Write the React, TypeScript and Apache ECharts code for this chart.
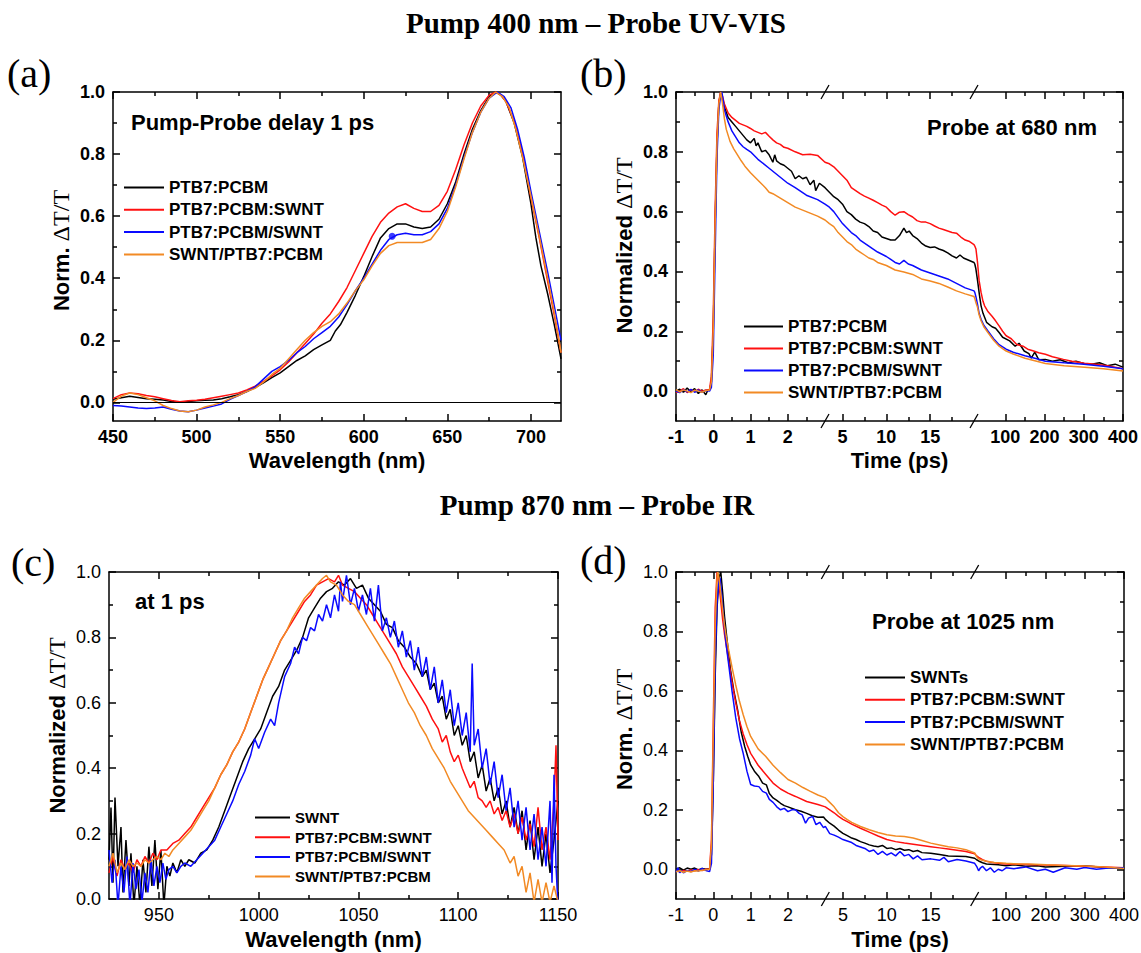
import React, { useEffect, useRef } from 'react';
import * as echarts from 'echarts';

type Pt = [number, number];

const SANS = '"Liberation Sans", Arial, Helvetica, sans-serif';
const SERIF = '"Liberation Serif", "Times New Roman", Times, serif';

const BLACK = '#000000';
const RED = '#ff1010';
const BLUE = '#0a0aff';
const ORANGE = '#f28a24';

// ---------------- Series names ----------------
const N_PTB7 = 'PTB7:PCBM';
const N_MIX = 'PTB7:PCBM:SWNT';
const N_TOP = 'PTB7:PCBM/SWNT';
const N_BOT = 'SWNT/PTB7:PCBM';
const N_SWNT = 'SWNT';
const N_SWNTS = 'SWNTs';

// ---------------- Ticks ----------------
const A_X_MAJOR = [450, 500, 550, 600, 650, 700];
const A_X_MINOR = [475, 525, 575, 625, 675];
const C_X_MAJOR = [950, 1000, 1050, 1100, 1150];
const C_X_MINOR = [975, 1025, 1075, 1125];
const Y_MAJOR = [0, 0.2, 0.4, 0.6, 0.8, 1.0];
const Y_MINOR = [0.1, 0.3, 0.5, 0.7, 0.9];
const TIME_MAJOR = [-1, 0, 1, 2, 5, 10, 15, 100, 200, 300, 400];
const TIME_MINOR = [-0.5, 0.5, 1.5, 2.5, 7.5, 12.5, 17.5, 150, 250, 350];
const TIME_BREAKS = [3, 20];

// ---------------- (a) Pump 400 / probe UV-VIS, spectrum at 1 ps ----------------
const A_BLACK: Pt[] = [
  [450, 0.01], [455, 0.015], [460, 0.02], [465, 0.016], [470, 0.012], [475, 0.01], [480, 0.008], [485, 0.003], [490, 0.0], [495, 0.003], [500, 0.005], [505, 0.007], [510, 0.008], [515, 0.012], [520, 0.018], [525, 0.025], [530, 0.035], [535, 0.048], [540, 0.063], [545, 0.08], [550, 0.095], [555, 0.115], [560, 0.135], [565, 0.15], [570, 0.17], [575, 0.185], [580, 0.2], [583, 0.23], [586, 0.25], [590, 0.29], [595, 0.345], [600, 0.405], [605, 0.47], [610, 0.53], [615, 0.56], [620, 0.575], [625, 0.575], [630, 0.565], [635, 0.56], [640, 0.565], [645, 0.59], [650, 0.64], [655, 0.71], [660, 0.8], [665, 0.88], [670, 0.94], [675, 0.985], [679, 1.0], [682, 0.99], [685, 0.97], [690, 0.9], [695, 0.79], [700, 0.64], [703, 0.53], [706, 0.44], [710, 0.35], [714, 0.25], [718, 0.14],
];
const A_RED: Pt[] = [
  [450, 0.012], [455, 0.025], [460, 0.03], [465, 0.028], [470, 0.022], [475, 0.018], [480, 0.012], [485, 0.006], [490, 0.002], [495, 0.005], [500, 0.007], [505, 0.01], [510, 0.015], [515, 0.02], [520, 0.025], [525, 0.03], [530, 0.04], [535, 0.052], [540, 0.068], [545, 0.085], [550, 0.105], [555, 0.13], [560, 0.16], [565, 0.19], [570, 0.22], [575, 0.255], [580, 0.285], [585, 0.325], [590, 0.37], [595, 0.425], [600, 0.48], [605, 0.535], [610, 0.58], [615, 0.61], [620, 0.63], [625, 0.64], [630, 0.625], [635, 0.615], [640, 0.615], [645, 0.635], [650, 0.68], [655, 0.75], [660, 0.83], [665, 0.9], [670, 0.955], [675, 0.99], [679, 1.0], [682, 0.99], [685, 0.97], [690, 0.905], [695, 0.8], [700, 0.66], [705, 0.53], [710, 0.39], [714, 0.28], [718, 0.16],
];
const A_BLUE: Pt[] = [
  [450, -0.01], [455, -0.012], [460, -0.015], [465, -0.018], [470, -0.02], [475, -0.018], [480, -0.015], [485, -0.022], [490, -0.028], [495, -0.03], [500, -0.025], [505, -0.018], [510, -0.012], [515, -0.005], [520, 0.01], [525, 0.022], [530, 0.035], [535, 0.05], [540, 0.075], [545, 0.1], [550, 0.115], [555, 0.135], [560, 0.16], [565, 0.18], [570, 0.205], [575, 0.225], [580, 0.245], [585, 0.275], [590, 0.315], [595, 0.36], [600, 0.4], [605, 0.445], [610, 0.49], [615, 0.525], [620, 0.54], [625, 0.545], [630, 0.54], [635, 0.54], [640, 0.55], [645, 0.575], [650, 0.625], [655, 0.7], [660, 0.79], [665, 0.87], [670, 0.935], [675, 0.98], [680, 1.0], [684, 0.985], [688, 0.95], [692, 0.88], [696, 0.79], [700, 0.68], [705, 0.55], [710, 0.42], [714, 0.31], [718, 0.2],
];
const A_ORANGE: Pt[] = [
  [450, 0.0], [455, 0.02], [460, 0.03], [465, 0.025], [470, 0.015], [475, 0.005], [480, -0.01], [485, -0.02], [490, -0.028], [495, -0.03], [500, -0.025], [505, -0.015], [510, -0.008], [515, 0.0], [520, 0.012], [525, 0.022], [530, 0.035], [535, 0.045], [540, 0.065], [545, 0.09], [550, 0.11], [555, 0.14], [560, 0.17], [565, 0.2], [570, 0.225], [575, 0.245], [580, 0.26], [585, 0.285], [590, 0.32], [595, 0.36], [600, 0.395], [605, 0.44], [610, 0.48], [615, 0.505], [620, 0.515], [625, 0.515], [630, 0.515], [635, 0.515], [640, 0.525], [645, 0.56], [650, 0.615], [655, 0.695], [660, 0.785], [665, 0.87], [670, 0.935], [675, 0.98], [679, 1.0], [683, 0.985], [687, 0.95], [691, 0.88], [695, 0.79], [700, 0.665], [705, 0.535], [710, 0.4], [714, 0.29], [718, 0.16],
];
const A_BLUE_DOT: Pt[] = [[617, 0.535]];

// ---------------- (b) Probe at 680 nm, kinetics (time in ps) ----------------
const B_BLACK: Pt[] = [
  [-1, 0], [-0.9, 0.006], [-0.8, -0.004], [-0.7, 0.01], [-0.6, -0.002], [-0.5, 0.008], [-0.4, -0.008], [-0.3, 0.004], [-0.2, -0.012], [-0.15, 0.002], [-0.1, 0.004], [-0.05, 0.03], [0, 0.2], [0.05, 0.55], [0.1, 0.82], [0.15, 0.96], [0.2, 1.0], [0.25, 0.975], [0.3, 0.95], [0.4, 0.915], [0.5, 0.9], [0.6, 0.885], [0.7, 0.87], [0.8, 0.855], [0.9, 0.84], [1.0, 0.83], [1.1, 0.845], [1.15, 0.82], [1.2, 0.83], [1.3, 0.8], [1.4, 0.805], [1.5, 0.79], [1.6, 0.765], [1.65, 0.79], [1.7, 0.77], [1.8, 0.76], [1.9, 0.755], [2.0, 0.745], [2.1, 0.735], [2.2, 0.71], [2.3, 0.72], [2.4, 0.71], [2.5, 0.715], [2.6, 0.69], [2.7, 0.705], [2.75, 0.67], [2.85, 0.695], [3.0, 0.68],
  [3.5, 0.665], [4, 0.65], [4.5, 0.64], [5, 0.625], [5.5, 0.6], [6, 0.59], [6.5, 0.575], [7, 0.565], [7.5, 0.56], [8, 0.55], [8.5, 0.535], [9, 0.53], [9.5, 0.515], [10, 0.51], [10.5, 0.505], [11, 0.505], [11.5, 0.52], [12, 0.545], [12.3, 0.53], [12.6, 0.535], [13, 0.52], [13.5, 0.51], [14, 0.495], [14.5, 0.485], [15, 0.48], [15.5, 0.482], [16, 0.475], [16.5, 0.47], [17, 0.462], [17.5, 0.452], [18, 0.445], [18.4, 0.455], [18.8, 0.445], [19.2, 0.44], [19.6, 0.435], [20, 0.43],
  [22, 0.425], [24.6, 0.41], [29, 0.37], [34, 0.32], [38, 0.285], [43, 0.26], [52, 0.23], [66, 0.215], [75, 0.21], [84, 0.196], [93, 0.18], [111, 0.168], [125, 0.15], [135, 0.16], [148, 0.134], [160, 0.125], [166, 0.11], [175, 0.13], [185, 0.105], [202, 0.106], [220, 0.1], [240, 0.105], [260, 0.095], [280, 0.1], [300, 0.092], [320, 0.09], [340, 0.095], [360, 0.085], [380, 0.09], [400, 0.08],
];
const B_RED: Pt[] = [
  [-1, -0.005], [-0.9, 0.0], [-0.8, 0.008], [-0.7, -0.005], [-0.6, 0.005], [-0.5, -0.002], [-0.4, 0.006], [-0.3, 0.0], [-0.2, 0.004], [-0.1, 0.005], [-0.05, 0.05], [0, 0.25], [0.05, 0.6], [0.1, 0.86], [0.15, 0.97], [0.2, 1.0], [0.25, 0.985], [0.3, 0.96], [0.4, 0.93], [0.5, 0.915], [0.6, 0.905], [0.7, 0.895], [0.8, 0.89], [0.9, 0.885], [1.0, 0.878], [1.1, 0.87], [1.2, 0.865], [1.3, 0.86], [1.4, 0.865], [1.5, 0.852], [1.6, 0.84], [1.7, 0.83], [1.8, 0.825], [1.9, 0.815], [2.0, 0.812], [2.2, 0.8], [2.4, 0.79], [2.6, 0.792], [2.8, 0.788], [3.0, 0.765],
  [3.5, 0.76], [4, 0.75], [4.5, 0.735], [5, 0.72], [5.5, 0.705], [6, 0.68], [6.5, 0.67], [7, 0.66], [7.5, 0.652], [8, 0.645], [8.5, 0.638], [9, 0.63], [9.5, 0.622], [10, 0.615], [10.5, 0.6], [11, 0.588], [11.5, 0.598], [12, 0.6], [12.5, 0.59], [13, 0.582], [13.5, 0.57], [14, 0.565], [14.5, 0.565], [15, 0.56], [15.5, 0.552], [16, 0.545], [16.5, 0.54], [17, 0.535], [17.5, 0.53], [18, 0.528], [18.5, 0.515], [19, 0.505], [19.5, 0.5], [20, 0.49],
  [22, 0.485], [25, 0.475], [29, 0.43], [33, 0.37], [38, 0.33], [43, 0.3], [47, 0.285], [56, 0.265], [66, 0.25], [75, 0.235], [84, 0.218], [93, 0.2], [102, 0.185], [115, 0.175], [129, 0.156], [145, 0.15], [157, 0.14], [170, 0.135], [185, 0.128], [202, 0.123], [220, 0.115], [248, 0.106], [270, 0.1], [302, 0.093], [330, 0.09], [360, 0.085], [380, 0.08], [400, 0.075],
];
const B_BLUE: Pt[] = [
  [-1, 0.0], [-0.9, -0.005], [-0.8, 0.005], [-0.7, -0.003], [-0.6, 0.006], [-0.5, -0.004], [-0.4, 0.004], [-0.3, -0.004], [-0.2, 0.002], [-0.1, 0.0], [-0.05, 0.012], [0, 0.12], [0.05, 0.45], [0.1, 0.78], [0.15, 0.94], [0.2, 0.99], [0.23, 1.0], [0.27, 0.97], [0.3, 0.94], [0.4, 0.9], [0.5, 0.87], [0.6, 0.85], [0.7, 0.83], [0.8, 0.817], [0.9, 0.808], [1.0, 0.8], [1.2, 0.775], [1.5, 0.745], [1.8, 0.715], [2.0, 0.695], [2.2, 0.68], [2.5, 0.655], [2.8, 0.64], [3.0, 0.625],
  [3.5, 0.615], [4, 0.6], [4.5, 0.58], [5, 0.56], [5.5, 0.545], [6, 0.53], [6.5, 0.52], [7, 0.505], [7.5, 0.495], [8, 0.485], [8.5, 0.475], [9, 0.465], [10, 0.45], [10.5, 0.44], [11, 0.43], [11.5, 0.425], [12, 0.437], [12.5, 0.425], [13, 0.42], [14, 0.405], [15, 0.395], [16, 0.385], [17, 0.375], [18, 0.36], [19, 0.345], [20, 0.335],
  [22, 0.33], [25, 0.315], [29, 0.29], [33, 0.26], [38, 0.24], [45, 0.22], [56, 0.2], [70, 0.175], [84, 0.155], [102, 0.14], [120, 0.13], [150, 0.118], [180, 0.108], [202, 0.1], [250, 0.095], [300, 0.09], [350, 0.083], [400, 0.075],
];
const B_ORANGE: Pt[] = [
  [-1, 0.005], [-0.9, -0.003], [-0.8, 0.004], [-0.7, 0.0], [-0.6, -0.005], [-0.5, 0.003], [-0.4, 0.0], [-0.3, -0.004], [-0.2, 0.002], [-0.1, 0.004], [-0.05, 0.03], [0, 0.2], [0.05, 0.55], [0.1, 0.83], [0.15, 0.96], [0.2, 1.0], [0.25, 0.96], [0.3, 0.91], [0.35, 0.875], [0.45, 0.835], [0.55, 0.81], [0.65, 0.79], [0.75, 0.77], [0.85, 0.752], [1.0, 0.73], [1.2, 0.705], [1.4, 0.68], [1.5, 0.665], [1.6, 0.66], [1.8, 0.645], [2.0, 0.63], [2.2, 0.615], [2.4, 0.605], [2.6, 0.595], [2.8, 0.585], [3.0, 0.572],
  [3.5, 0.56], [4, 0.55], [4.5, 0.53], [5, 0.515], [5.5, 0.5], [6, 0.49], [6.5, 0.475], [7, 0.465], [7.5, 0.455], [8, 0.445], [8.5, 0.44], [9, 0.43], [10, 0.42], [11, 0.405], [12, 0.398], [13, 0.39], [14, 0.375], [15, 0.368], [16, 0.36], [17, 0.348], [18, 0.335], [19, 0.325], [20, 0.316],
  [22, 0.31], [25, 0.295], [29, 0.28], [33, 0.255], [38, 0.235], [45, 0.215], [56, 0.195], [70, 0.17], [84, 0.15], [102, 0.134], [120, 0.124], [150, 0.11], [180, 0.1], [202, 0.092], [250, 0.085], [302, 0.08], [350, 0.075], [400, 0.067],
];

// ---------------- (c) Pump 870 / probe IR, spectrum at 1 ps ----------------
const C_BLACK: Pt[] = [
  [925, 0.12], [926, 0.28], [927, 0.05], [928, 0.31], [929.5, 0.1], [931, 0.22], [932, 0.02], [933.5, 0.18], [935, 0.04], [936, 0.14], [937.5, -0.02], [939, 0.1], [940.5, -0.02], [942, 0.12], [943.5, 0.02], [945, 0.16], [946.5, 0.04], [948, 0.18], [949.5, 0.03], [951, 0.15], [952.5, -0.02], [954, 0.1], [955.5, 0.07], [957, 0.11], [959, 0.08], [961, 0.12], [963, 0.1], [965, 0.12], [968, 0.11], [971, 0.14], [974, 0.15], [977, 0.18], [980, 0.22], [983, 0.27], [986, 0.32], [989, 0.37], [992, 0.42], [995, 0.46], [998, 0.49], [1001, 0.52], [1004, 0.57], [1007, 0.62], [1010, 0.65], [1013, 0.7], [1016, 0.73], [1019, 0.76], [1022, 0.8], [1025, 0.86], [1028, 0.89], [1031, 0.92], [1034, 0.94], [1037, 0.95], [1040, 0.97], [1043, 0.96], [1046, 0.98], [1049, 0.95], [1052, 0.96], [1055, 0.92], [1058, 0.9], [1061, 0.88], [1064, 0.84], [1067, 0.83], [1070, 0.79], [1073, 0.77], [1076, 0.74], [1079, 0.72], [1082, 0.68], [1084, 0.7], [1086, 0.64], [1088, 0.66], [1090, 0.6], [1092, 0.62], [1094, 0.55], [1096, 0.58], [1098, 0.5], [1100, 0.53], [1102, 0.47], [1104, 0.5], [1106, 0.42], [1108, 0.45], [1110, 0.37], [1112, 0.41], [1114, 0.33], [1116, 0.37], [1118, 0.3], [1120, 0.34], [1122, 0.26], [1124, 0.3], [1126, 0.22], [1128, 0.28], [1130, 0.2], [1132, 0.27], [1134, 0.15], [1136, 0.24], [1138, 0.12], [1140, 0.22], [1142, 0.1], [1144, 0.2], [1146, 0.08], [1148, 0.18], [1150, 0.3],
];
const C_RED: Pt[] = [
  [925, 0.08], [927, 0.13], [929, 0.07], [931, 0.12], [933, 0.09], [935, 0.11], [937, 0.08], [939, 0.12], [941, 0.1], [943, 0.13], [945, 0.11], [947, 0.14], [949, 0.12], [951, 0.15], [954, 0.15], [957, 0.17], [960, 0.18], [963, 0.2], [966, 0.22], [969, 0.25], [972, 0.28], [975, 0.31], [978, 0.34], [981, 0.38], [984, 0.41], [987, 0.45], [990, 0.48], [993, 0.52], [996, 0.57], [999, 0.62], [1002, 0.67], [1005, 0.71], [1008, 0.75], [1011, 0.79], [1014, 0.82], [1017, 0.85], [1020, 0.88], [1023, 0.91], [1026, 0.93], [1029, 0.96], [1032, 0.97], [1035, 0.98], [1038, 0.97], [1040, 0.99], [1042, 0.96], [1045, 0.95], [1048, 0.94], [1051, 0.92], [1054, 0.9], [1057, 0.87], [1060, 0.84], [1063, 0.81], [1066, 0.78], [1069, 0.75], [1072, 0.71], [1075, 0.68], [1078, 0.65], [1081, 0.62], [1084, 0.59], [1087, 0.55], [1090, 0.52], [1092, 0.48], [1094, 0.5], [1096, 0.45], [1098, 0.42], [1100, 0.44], [1102, 0.4], [1104, 0.37], [1106, 0.34], [1108, 0.36], [1110, 0.31], [1112, 0.3], [1114, 0.28], [1116, 0.3], [1118, 0.26], [1120, 0.28], [1122, 0.24], [1124, 0.27], [1126, 0.22], [1128, 0.26], [1130, 0.2], [1132, 0.25], [1134, 0.18], [1136, 0.23], [1138, 0.16], [1140, 0.28], [1142, 0.15], [1144, 0.22], [1146, 0.12], [1148, 0.3], [1149, 0.47], [1150, 0.18],
];
const C_BLUE: Pt[] = [
  [925, 0.15], [926.5, 0.05], [928, 0.12], [929.5, -0.02], [931, 0.1], [932.5, 0.02], [934, 0.13], [935.5, -0.02], [937, 0.11], [938.5, 0.03], [940, 0.09], [941.5, -0.01], [943, 0.08], [944.5, 0.02], [946, 0.12], [947.5, 0.04], [949, 0.1], [950.5, 0.05], [952, 0.11], [953.5, 0.06], [955, 0.09], [957, 0.1], [959, 0.08], [961, 0.1], [963, 0.11], [966, 0.1], [969, 0.12], [972, 0.14], [975, 0.16], [978, 0.18], [981, 0.22], [984, 0.26], [987, 0.3], [990, 0.35], [993, 0.39], [996, 0.44], [998, 0.49], [1000, 0.46], [1003, 0.51], [1006, 0.55], [1008, 0.53], [1010, 0.6], [1013, 0.68], [1016, 0.72], [1018, 0.77], [1020, 0.75], [1022, 0.8], [1024, 0.79], [1026, 0.83], [1028, 0.82], [1030, 0.87], [1032, 0.85], [1034, 0.9], [1036, 0.86], [1038, 0.93], [1040, 0.88], [1041, 0.97], [1042, 0.91], [1044, 0.99], [1046, 0.9], [1048, 0.95], [1050, 0.88], [1052, 0.93], [1054, 0.87], [1056, 0.95], [1058, 0.85], [1060, 0.96], [1062, 0.82], [1064, 0.86], [1066, 0.8], [1068, 0.85], [1070, 0.77], [1072, 0.82], [1074, 0.74], [1076, 0.79], [1078, 0.7], [1080, 0.77], [1082, 0.68], [1084, 0.74], [1086, 0.64], [1088, 0.71], [1090, 0.6], [1092, 0.67], [1094, 0.57], [1096, 0.64], [1098, 0.53], [1100, 0.6], [1102, 0.5], [1104, 0.57], [1106, 0.45], [1107, 0.72], [1108, 0.47], [1110, 0.52], [1112, 0.4], [1114, 0.46], [1116, 0.35], [1118, 0.42], [1120, 0.31], [1122, 0.38], [1124, 0.27], [1126, 0.34], [1128, 0.22], [1130, 0.3], [1132, 0.18], [1134, 0.28], [1136, 0.15], [1138, 0.26], [1140, 0.12], [1142, 0.22], [1144, 0.1], [1146, 0.3], [1147, 0.05], [1148, 0.38], [1149, 0.1], [1150, -0.02],
];
const C_ORANGE: Pt[] = [
  [925, 0.1], [927, 0.14], [929, 0.08], [931, 0.11], [933, 0.09], [935, 0.12], [937, 0.1], [939, 0.11], [941, 0.1], [943, 0.12], [945, 0.11], [947, 0.12], [949, 0.13], [951, 0.12], [953, 0.14], [955, 0.13], [957, 0.15], [960, 0.17], [963, 0.19], [966, 0.21], [969, 0.24], [972, 0.27], [975, 0.3], [978, 0.34], [981, 0.38], [984, 0.41], [987, 0.45], [990, 0.48], [993, 0.52], [996, 0.57], [999, 0.62], [1002, 0.67], [1005, 0.71], [1008, 0.75], [1011, 0.79], [1014, 0.82], [1017, 0.86], [1020, 0.89], [1023, 0.92], [1026, 0.94], [1029, 0.96], [1032, 0.98], [1034, 0.99], [1036, 0.97], [1039, 0.96], [1042, 0.93], [1045, 0.91], [1048, 0.9], [1051, 0.87], [1054, 0.84], [1057, 0.81], [1060, 0.78], [1063, 0.75], [1066, 0.72], [1069, 0.68], [1072, 0.64], [1075, 0.6], [1078, 0.57], [1081, 0.53], [1084, 0.5], [1087, 0.46], [1090, 0.43], [1093, 0.4], [1096, 0.36], [1099, 0.33], [1102, 0.3], [1105, 0.27], [1108, 0.25], [1111, 0.23], [1114, 0.21], [1117, 0.19], [1120, 0.17], [1123, 0.15], [1126, 0.11], [1128, 0.13], [1130, 0.07], [1132, 0.1], [1134, 0.02], [1136, 0.08], [1138, -0.01], [1140, 0.06], [1142, -0.01], [1144, 0.05], [1146, -0.01], [1148, 0.04], [1150, -0.01],
];

// ---------------- (d) Probe at 1025 nm, kinetics (time in ps) ----------------
const D_BLACK: Pt[] = [
  [-1, 0.0], [-0.9, 0.005], [-0.8, -0.003], [-0.7, 0.004], [-0.6, 0.0], [-0.5, 0.004], [-0.4, -0.002], [-0.3, 0.003], [-0.2, 0.0], [-0.1, 0.002], [-0.05, 0.05], [0, 0.3], [0.05, 0.65], [0.1, 0.88], [0.15, 0.98], [0.2, 1.0], [0.25, 0.93], [0.3, 0.85], [0.36, 0.78], [0.46, 0.67], [0.55, 0.6], [0.65, 0.536], [0.75, 0.46], [0.84, 0.413], [0.92, 0.38], [1.0, 0.351], [1.1, 0.33], [1.22, 0.312], [1.32, 0.29], [1.42, 0.284], [1.5, 0.255], [1.6, 0.24], [1.7, 0.232], [1.8, 0.222], [1.9, 0.214], [2.0, 0.21], [2.2, 0.2], [2.35, 0.195], [2.5, 0.188], [2.65, 0.18], [2.8, 0.175], [2.95, 0.176], [3.0, 0.168],
  [3.5, 0.155], [4, 0.145], [4.5, 0.132], [5, 0.121], [5.5, 0.113], [6, 0.105], [6.5, 0.1], [7, 0.093], [7.5, 0.088], [8, 0.082], [8.5, 0.078], [9, 0.076], [9.5, 0.08], [10, 0.07], [10.5, 0.072], [11, 0.066], [11.5, 0.07], [12, 0.064], [12.5, 0.066], [13, 0.06], [13.5, 0.063], [14, 0.056], [15, 0.054], [16, 0.05], [17, 0.045], [18, 0.044], [19, 0.043], [20, 0.037],
  [25, 0.032], [30, 0.028], [40, 0.022], [50, 0.018], [60, 0.017], [80, 0.015], [100, 0.012], [120, 0.015], [150, 0.01], [180, 0.012], [200, 0.008], [250, 0.01], [300, 0.012], [350, 0.006], [400, 0.003],
];
const D_RED: Pt[] = [
  [-1, -0.005], [-0.9, -0.008], [-0.8, -0.004], [-0.7, -0.006], [-0.6, -0.002], [-0.5, -0.005], [-0.4, -0.001], [-0.3, -0.004], [-0.2, 0.0], [-0.1, 0.0], [-0.05, 0.1], [0, 0.5], [0.05, 0.88], [0.1, 1.0], [0.15, 0.96], [0.2, 0.9], [0.25, 0.84], [0.3, 0.79], [0.35, 0.75], [0.4, 0.71], [0.5, 0.63], [0.6, 0.56], [0.7, 0.5], [0.8, 0.455], [0.9, 0.42], [1.0, 0.39], [1.2, 0.35], [1.4, 0.32], [1.6, 0.29], [1.8, 0.27], [2.0, 0.256], [2.2, 0.245], [2.5, 0.228], [2.8, 0.218], [3.0, 0.21],
  [3.5, 0.2], [4, 0.19], [4.5, 0.178], [5, 0.168], [5.5, 0.16], [6, 0.152], [7, 0.138], [8, 0.125], [9, 0.112], [10, 0.1], [11, 0.093], [12, 0.088], [13, 0.084], [14, 0.08], [15, 0.076], [16, 0.072], [17, 0.068], [18, 0.064], [19, 0.06], [20, 0.052],
  [25, 0.045], [30, 0.04], [40, 0.032], [50, 0.027], [60, 0.024], [80, 0.02], [100, 0.018], [150, 0.016], [200, 0.014], [250, 0.013], [300, 0.01], [350, 0.008], [400, 0.005],
];
const D_BLUE: Pt[] = [
  [-1, -0.01], [-0.95, 0.005], [-0.9, -0.012], [-0.85, -0.005], [-0.8, -0.012], [-0.7, -0.004], [-0.6, -0.008], [-0.5, 0.0], [-0.4, -0.006], [-0.3, 0.003], [-0.2, -0.004], [-0.1, -0.008], [-0.05, 0.02], [0, 0.3], [0.05, 0.7], [0.1, 0.9], [0.15, 0.97], [0.18, 0.98], [0.22, 0.93], [0.26, 0.87], [0.3, 0.81], [0.35, 0.75], [0.4, 0.7], [0.5, 0.6], [0.6, 0.51], [0.7, 0.44], [0.8, 0.39], [0.9, 0.33], [1.0, 0.285], [1.1, 0.28], [1.22, 0.278], [1.32, 0.262], [1.42, 0.256], [1.5, 0.235], [1.6, 0.225], [1.7, 0.21], [1.8, 0.2], [1.9, 0.205], [2.0, 0.194], [2.1, 0.2], [2.2, 0.2], [2.3, 0.188], [2.38, 0.183], [2.47, 0.155], [2.55, 0.172], [2.66, 0.178], [2.75, 0.15], [2.85, 0.158], [2.95, 0.14], [3.0, 0.144],
  [3.5, 0.12], [4, 0.115], [4.5, 0.108], [5, 0.1], [5.5, 0.095], [6, 0.09], [6.5, 0.08], [7, 0.075], [7.5, 0.07], [8, 0.06], [8.5, 0.065], [9, 0.05], [9.5, 0.06], [10, 0.048], [10.5, 0.055], [11, 0.045], [11.5, 0.06], [12, 0.045], [12.5, 0.05], [13, 0.035], [13.5, 0.045], [14, 0.032], [15, 0.035], [16, 0.03], [16.5, 0.04], [17, 0.025], [18, 0.033], [19, 0.028], [20, 0.02],
  [25, 0.01], [30, -0.005], [35, 0.005], [40, 0.01], [50, -0.005], [60, 0.005], [70, -0.01], [80, 0.0], [90, -0.005], [100, 0.005], [120, 0.002], [150, 0.008], [180, -0.005], [200, 0.0], [220, -0.01], [250, 0.005], [280, 0.0], [300, 0.006], [330, 0.0], [360, 0.004], [400, 0.005],
];
const D_ORANGE: Pt[] = [
  [-1, -0.008], [-0.9, -0.005], [-0.8, -0.01], [-0.7, -0.006], [-0.6, -0.009], [-0.5, -0.005], [-0.4, -0.006], [-0.3, -0.003], [-0.2, -0.002], [-0.1, 0.0], [-0.05, 0.08], [0, 0.45], [0.05, 0.82], [0.1, 0.98], [0.12, 1.0], [0.15, 0.98], [0.2, 0.93], [0.25, 0.87], [0.3, 0.82], [0.35, 0.78], [0.4, 0.745], [0.5, 0.68], [0.6, 0.62], [0.7, 0.565], [0.8, 0.52], [0.9, 0.48], [1.0, 0.447], [1.2, 0.405], [1.4, 0.38], [1.6, 0.35], [1.8, 0.325], [2.0, 0.302], [2.2, 0.29], [2.4, 0.275], [2.6, 0.262], [2.8, 0.25], [3.0, 0.24],
  [3.5, 0.225], [4, 0.21], [4.5, 0.19], [5, 0.177], [5.5, 0.167], [6, 0.158], [7, 0.144], [8, 0.133], [9, 0.124], [10, 0.116], [11, 0.112], [12, 0.11], [13, 0.105], [14, 0.097], [15, 0.088], [16, 0.082], [17, 0.076], [18, 0.072], [19, 0.066], [20, 0.055],
  [25, 0.042], [30, 0.035], [38, 0.031], [50, 0.027], [70, 0.023], [100, 0.02], [130, 0.018], [157, 0.018], [202, 0.015], [250, 0.013], [302, 0.011], [350, 0.008], [400, 0.003],
];

// ---------------- Layout ----------------
const GRIDS = [
  { left: 113, top: 92, width: 448, height: 329 },
  { left: 676, top: 92, width: 447, height: 329 },
  { left: 109, top: 572, width: 449, height: 327 },
  { left: 676, top: 572, width: 448, height: 327 },
];

// Piecewise (broken) time axis: [-1,3] | [3,20] | [20,400], each one third of the width
function timePos(t: number): number {
  if (t <= TIME_BREAKS[0]) return (t + 1) / (TIME_BREAKS[0] + 1);
  if (t <= TIME_BREAKS[1]) return 1 + (t - TIME_BREAKS[0]) / (TIME_BREAKS[1] - TIME_BREAKS[0]);
  return 2 + (t - TIME_BREAKS[1]) / (400 - TIME_BREAKS[1]);
}
function timeLabel(v: number): string {
  for (const t of TIME_MAJOR) if (Math.abs(timePos(t) - v) < 1e-6) return String(t);
  return '';
}
const toTime = (d: Pt[]): Pt[] => d.map(([t, v]) => [timePos(t), v] as Pt);

const TICK_STYLE = { color: '#000', width: 1.5 };

function axisSet(
  dim: 'x' | 'y', gi: number, min: number, max: number,
  majors: number[], minors: number[], fmt: (v: number) => string,
  bold: boolean, name: string, nameGap: number, nameTextStyle: any,
) {
  const base: any = {
    type: 'value', gridIndex: gi, min, max,
    splitLine: { show: false }, splitArea: { show: false },
    minorTick: { show: false }, minorSplitLine: { show: false },
    axisPointer: { show: false }, silent: true,
  };
  const pMain = dim === 'x' ? 'bottom' : 'left';
  const pOpp = dim === 'x' ? 'top' : 'right';
  const lbl = {
    show: true, customValues: majors, formatter: fmt,
    fontFamily: SANS, fontWeight: bold ? 'bold' : 'normal', fontSize: 18, color: '#000',
    margin: dim === 'x' ? 7 : 8,
  };
  return [
    {
      ...base, position: pMain,
      axisLine: { show: true, onZero: false, lineStyle: TICK_STYLE },
      axisTick: { show: true, inside: true, length: 7, customValues: majors, lineStyle: TICK_STYLE },
      axisLabel: lbl, name, nameLocation: 'middle', nameGap, nameTextStyle,
    },
    {
      ...base, position: pMain,
      axisLine: { show: false, onZero: false },
      axisTick: { show: true, inside: true, length: 4, customValues: minors, lineStyle: TICK_STYLE },
      axisLabel: { show: false },
    },
    {
      ...base, position: pOpp,
      axisLine: { show: true, onZero: false, lineStyle: TICK_STYLE },
      axisTick: { show: true, inside: true, length: 7, customValues: majors, lineStyle: TICK_STYLE },
      axisLabel: { show: false },
    },
    {
      ...base, position: pOpp,
      axisLine: { show: false, onZero: false },
      axisTick: { show: true, inside: true, length: 4, customValues: minors, lineStyle: TICK_STYLE },
      axisLabel: { show: false },
    },
  ];
}

const fmtY = (v: number) => v.toFixed(1);
const fmtInt = (v: number) => String(Math.round(v));

const xNameStyle = { fontFamily: SANS, fontWeight: 'bold', fontSize: 22, color: '#000' };
function yNameStyle(shift: number) {
  return {
    color: '#000',
    padding: [0, 0, 0, shift],
    rich: {
      a: { fontFamily: SANS, fontWeight: 'bold', fontSize: 22, color: '#000' },
      b: { fontFamily: SERIF, fontWeight: 'normal', fontSize: 24, color: '#000' },
    },
  };
}

function line(name: string, color: string, data: Pt[], gi: number, extra: any = {}) {
  return {
    type: 'line', name, data, xAxisIndex: gi * 4, yAxisIndex: gi * 4,
    symbol: 'none', showSymbol: false, silent: true, clip: true,
    lineStyle: { color, width: 1.5 }, itemStyle: { color },
    emphasis: { disabled: true }, z: 3, ...extra,
  };
}

function breakSeries(gi: number, ymin: number, ymax: number) {
  return {
    type: 'custom', xAxisIndex: gi * 4, yAxisIndex: gi * 4, silent: true, clip: false, z: 10,
    data: [[1, ymin], [1, ymax], [2, ymin], [2, ymax]],
    renderItem: (_p: any, api: any) => {
      const p = api.coord([api.value(0), api.value(1)]);
      return {
        type: 'line',
        shape: { x1: p[0] - 4, y1: p[1] + 7, x2: p[0] + 4, y2: p[1] - 7 },
        style: { stroke: '#000', lineWidth: 1.3 },
      };
    },
  };
}

function legend(names: string[], left: number, top: number, itemWidth: number, fontSize: number, itemGap: number) {
  return {
    show: true, orient: 'vertical', left, top, padding: 0, itemWidth, itemHeight: 2, itemGap,
    icon: 'rect', selectedMode: false, data: names,
    itemStyle: { borderWidth: 0 },
    textStyle: { fontFamily: SANS, fontWeight: 'bold', fontSize, color: '#000', lineHeight: fontSize },
  };
}

function text(t: string, x: number, y: number, font: string, align: string = 'left') {
  return {
    type: 'text', x, y, silent: true, z: 20,
    style: { text: t, font, fill: '#000', align, verticalAlign: 'middle', textAlign: align, textVerticalAlign: 'middle' },
  };
}

function buildOption() {
  const xAxis = [
    ...axisSet('x', 0, 450, 718, A_X_MAJOR, A_X_MINOR, fmtInt, true, 'Wavelength (nm)', 28, xNameStyle),
    ...axisSet('x', 1, 0, 3, TIME_MAJOR.map(timePos), TIME_MINOR.map(timePos), timeLabel, true, 'Time (ps)', 28, xNameStyle),
    ...axisSet('x', 2, 925, 1150, C_X_MAJOR, C_X_MINOR, fmtInt, false, 'Wavelength (nm)', 29, xNameStyle),
    ...axisSet('x', 3, 0, 3, TIME_MAJOR.map(timePos), TIME_MINOR.map(timePos), timeLabel, false, 'Time (ps)', 29, xNameStyle),
  ];
  const yAxis = [
    ...axisSet('y', 0, -0.06, 1.0, Y_MAJOR, Y_MINOR, fmtY, true, '{a|Norm. }{b|ΔT/T}', 40, yNameStyle(12)),
    ...axisSet('y', 1, -0.1, 1.0, Y_MAJOR, Y_MINOR, fmtY, true, '{a|Normalized }{b|ΔT/T}', 40, yNameStyle(22)),
    ...axisSet('y', 2, 0, 1.0, Y_MAJOR, Y_MINOR, fmtY, false, '{a|Normalized }{b|ΔT/T}', 40, yNameStyle(20)),
    ...axisSet('y', 3, -0.1, 1.0, Y_MAJOR, Y_MINOR, fmtY, false, '{a|Norm. }{b|ΔT/T}', 40, yNameStyle(12)),
  ];

  const series: any[] = [
    // (a)
    line(N_PTB7, BLACK, A_BLACK, 0, {
      markLine: {
        silent: true, symbol: ['none', 'none'], animation: false,
        label: { show: false }, lineStyle: { color: '#000', width: 1.2, type: 'solid' },
        data: [{ yAxis: 0 }],
      },
    }),
    line(N_MIX, RED, A_RED, 0),
    line(N_TOP, BLUE, A_BLUE, 0),
    line(N_BOT, ORANGE, A_ORANGE, 0),
    {
      type: 'scatter', data: A_BLUE_DOT, xAxisIndex: 0, yAxisIndex: 0, symbolSize: 7, silent: true,
      itemStyle: { color: BLUE }, z: 4,
    },
    // (b)
    line(N_PTB7, BLACK, toTime(B_BLACK), 1),
    line(N_MIX, RED, toTime(B_RED), 1),
    line(N_TOP, BLUE, toTime(B_BLUE), 1),
    line(N_BOT, ORANGE, toTime(B_ORANGE), 1),
    breakSeries(1, -0.1, 1.0),
    // (c)
    line(N_SWNT, BLACK, C_BLACK, 2),
    line(N_MIX, RED, C_RED, 2),
    line(N_TOP, BLUE, C_BLUE, 2),
    line(N_BOT, ORANGE, C_ORANGE, 2),
    // (d)
    line(N_SWNTS, BLACK, toTime(D_BLACK), 3),
    line(N_MIX, RED, toTime(D_RED), 3),
    line(N_TOP, BLUE, toTime(D_BLUE), 3),
    line(N_BOT, ORANGE, toTime(D_ORANGE), 3),
    breakSeries(3, -0.1, 1.0),
  ];

  const graphic = [
    text('Pump 400 nm – Probe UV-VIS', 596, 23, `bold 29px ${SERIF}`, 'center'),
    text('Pump 870 nm – Probe IR', 597, 505, `bold 29px ${SERIF}`, 'center'),
    text('(a)', 7, 73, `40px ${SERIF}`),
    text('(b)', 580, 73, `40px ${SERIF}`),
    text('(c)', 11, 562, `40px ${SERIF}`),
    text('(d)', 580, 560, `40px ${SERIF}`),
    text('Pump-Probe delay 1 ps', 131, 122, `bold 22px ${SANS}`),
    text('Probe at 680 nm', 927, 127, `bold 22px ${SANS}`),
    text('at 1 ps', 135, 601, `bold 22px ${SANS}`),
    text('Probe at 1025 nm', 872, 621, `bold 22px ${SANS}`),
  ];

  return {
    animation: false,
    backgroundColor: '#ffffff',
    textStyle: { fontFamily: SANS },
    grid: GRIDS.map((g) => ({ ...g, containLabel: false, outerBoundsMode: 'none', show: false })),
    xAxis,
    yAxis,
    legend: [
      legend([N_PTB7, N_MIX, N_TOP, N_BOT], 124, 179, 40, 17, 5.3),
      legend([N_PTB7, N_MIX, N_TOP, N_BOT], 744, 318, 39, 17, 5),
      legend([N_SWNT, N_MIX, N_TOP, N_BOT], 255, 810, 35, 15, 4.7),
      legend([N_SWNTS, N_MIX, N_TOP, N_BOT], 865, 669, 40, 17, 5.3),
    ],
    tooltip: { show: false },
    series,
    graphic,
  };
}

export default function App() {
  const ref = useRef<HTMLDivElement>(null);
  useEffect(() => {
    if (!ref.current) return;
    const chart = echarts.init(ref.current, null, { renderer: 'svg', width: 1141, height: 953 });
    chart.setOption(buildOption() as any);
    return () => {
      chart.dispose();
    };
  }, []);
  return (
    <div
      ref={ref}
      style={{ position: 'absolute', left: 0, top: 0, width: 1141, height: 953, background: '#fff' }}
    />
  );
}
